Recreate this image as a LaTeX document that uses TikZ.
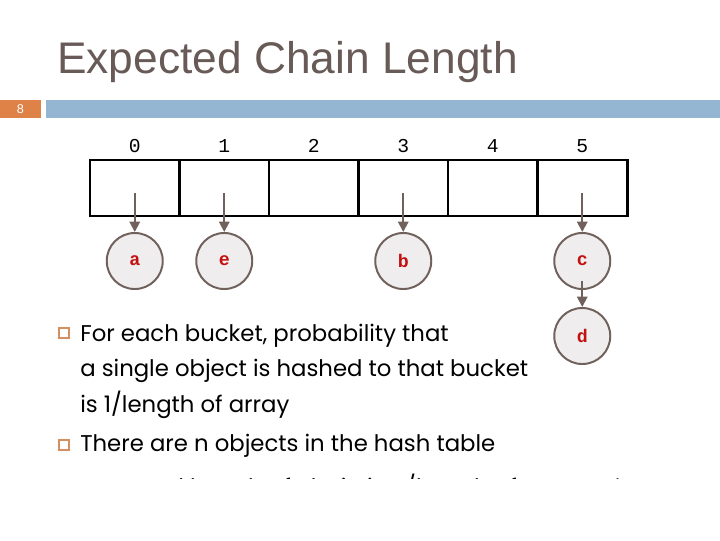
\documentclass[tikz,border=0pt]{standalone}
\usepackage{fontspec}
\setmainfont{Liberation Sans}
\newfontfamily\bodyfont{Poppins}
\newfontfamily\codefont{Liberation Mono}
\usetikzlibrary{arrows.meta,positioning}
\definecolor{titlebrown}{RGB}{104,90,86}
\definecolor{barorange}{RGB}{223,130,72}
\definecolor{barblue}{RGB}{149,182,210}
\definecolor{linkbrown}{RGB}{112,97,92}
\definecolor{ballgray}{RGB}{239,237,237}
\definecolor{keyred}{RGB}{196,16,16}
\definecolor{bulletorange}{RGB}{214,142,96}

\begin{document}
\begin{tikzpicture}[
  x=0.025cm, y=-0.025cm,
  cell/.style={draw, line width=2.1pt, minimum width=2.2375cm, minimum height=1.4cm, inner sep=0pt},
  index/.style={font=\codefont\fontsize{14}{14}\selectfont, anchor=base},
  ball/.style={circle, draw=linkbrown, line width=1.4pt, fill=ballgray, minimum size=1.4cm, inner sep=0pt,
    font=\codefont\bfseries\fontsize{13}{13}\selectfont, text=keyred},
  link/.style={draw=linkbrown, line width=1.4pt, -{Triangle[length=2.6mm,width=2.6mm]}},
  bullet/.style={draw=bulletorange, line width=0.9pt, fill=white, minimum size=0.25cm, inner sep=0pt},
  body/.style={font=\bodyfont\fontsize{16.2}{24.9}\selectfont, anchor=base west, align=left, inner sep=0pt}
]
\useasboundingbox (0,0) rectangle (720,540);

% Title and header bar
\node[anchor=base west, inner sep=0pt, text=titlebrown, font=\fontsize{31.5}{31.5}\selectfont] (title) at (57,73) {Expected Chain Length};
\fill[barorange] (0,100) rectangle (41,118);
\fill[barblue] (46,100) rectangle (720,118);
\node[text=white, font=\fontsize{9}{9}\selectfont, inner sep=0pt] (slideno) at (20.5,109) {8};

% Array of buckets
\foreach \i in {0,...,5} {
  \node[cell] (cell\i) at (134.75+89.5*\i,188) {};
  \node[index] (idx\i) at (134.75+89.5*\i,152) {\i};
}

% Chains
\node[ball] (a) at (134.75,261) {a};
\node[ball] (e) at (224.25,261) {e};
\node[ball] (b) at (403.25,261) {b};
\node[ball] (c) at (582.25,261) {c};
\node[ball] (d) at (582.25,336) {d};
\draw[link] ([yshift=-0.125cm]cell0.center) -- (a);
\draw[link] ([yshift=-0.125cm]cell1.center) -- (e);
\draw[link] ([yshift=-0.125cm]cell3.center) -- (b);
\draw[link] ([yshift=-0.125cm]cell5.center) -- (c);
\draw[link] ([yshift=-0.5cm]c.center) -- (d);

% Bullet text (base is the last line)
\node[bullet] (b1) at (64,333) {};
\node[body] (t1) at (80,412) {For each bucket, probability that\\a single object is hashed to that bucket\\is 1/length of array};
\node[bullet] (b2) at (64,445) {};
\node[body] (t2) at (80,451) {There are n objects in the hash table};
\begin{scope}
  \clip (0,0) rectangle (720,478);
  \node[bullet] (b3) at (64,489) {};
  \node[body] (t3) at (80,495) {Expected length of chain is n/length of array = $\lambda$};
\end{scope}

\end{tikzpicture}
\end{document}
